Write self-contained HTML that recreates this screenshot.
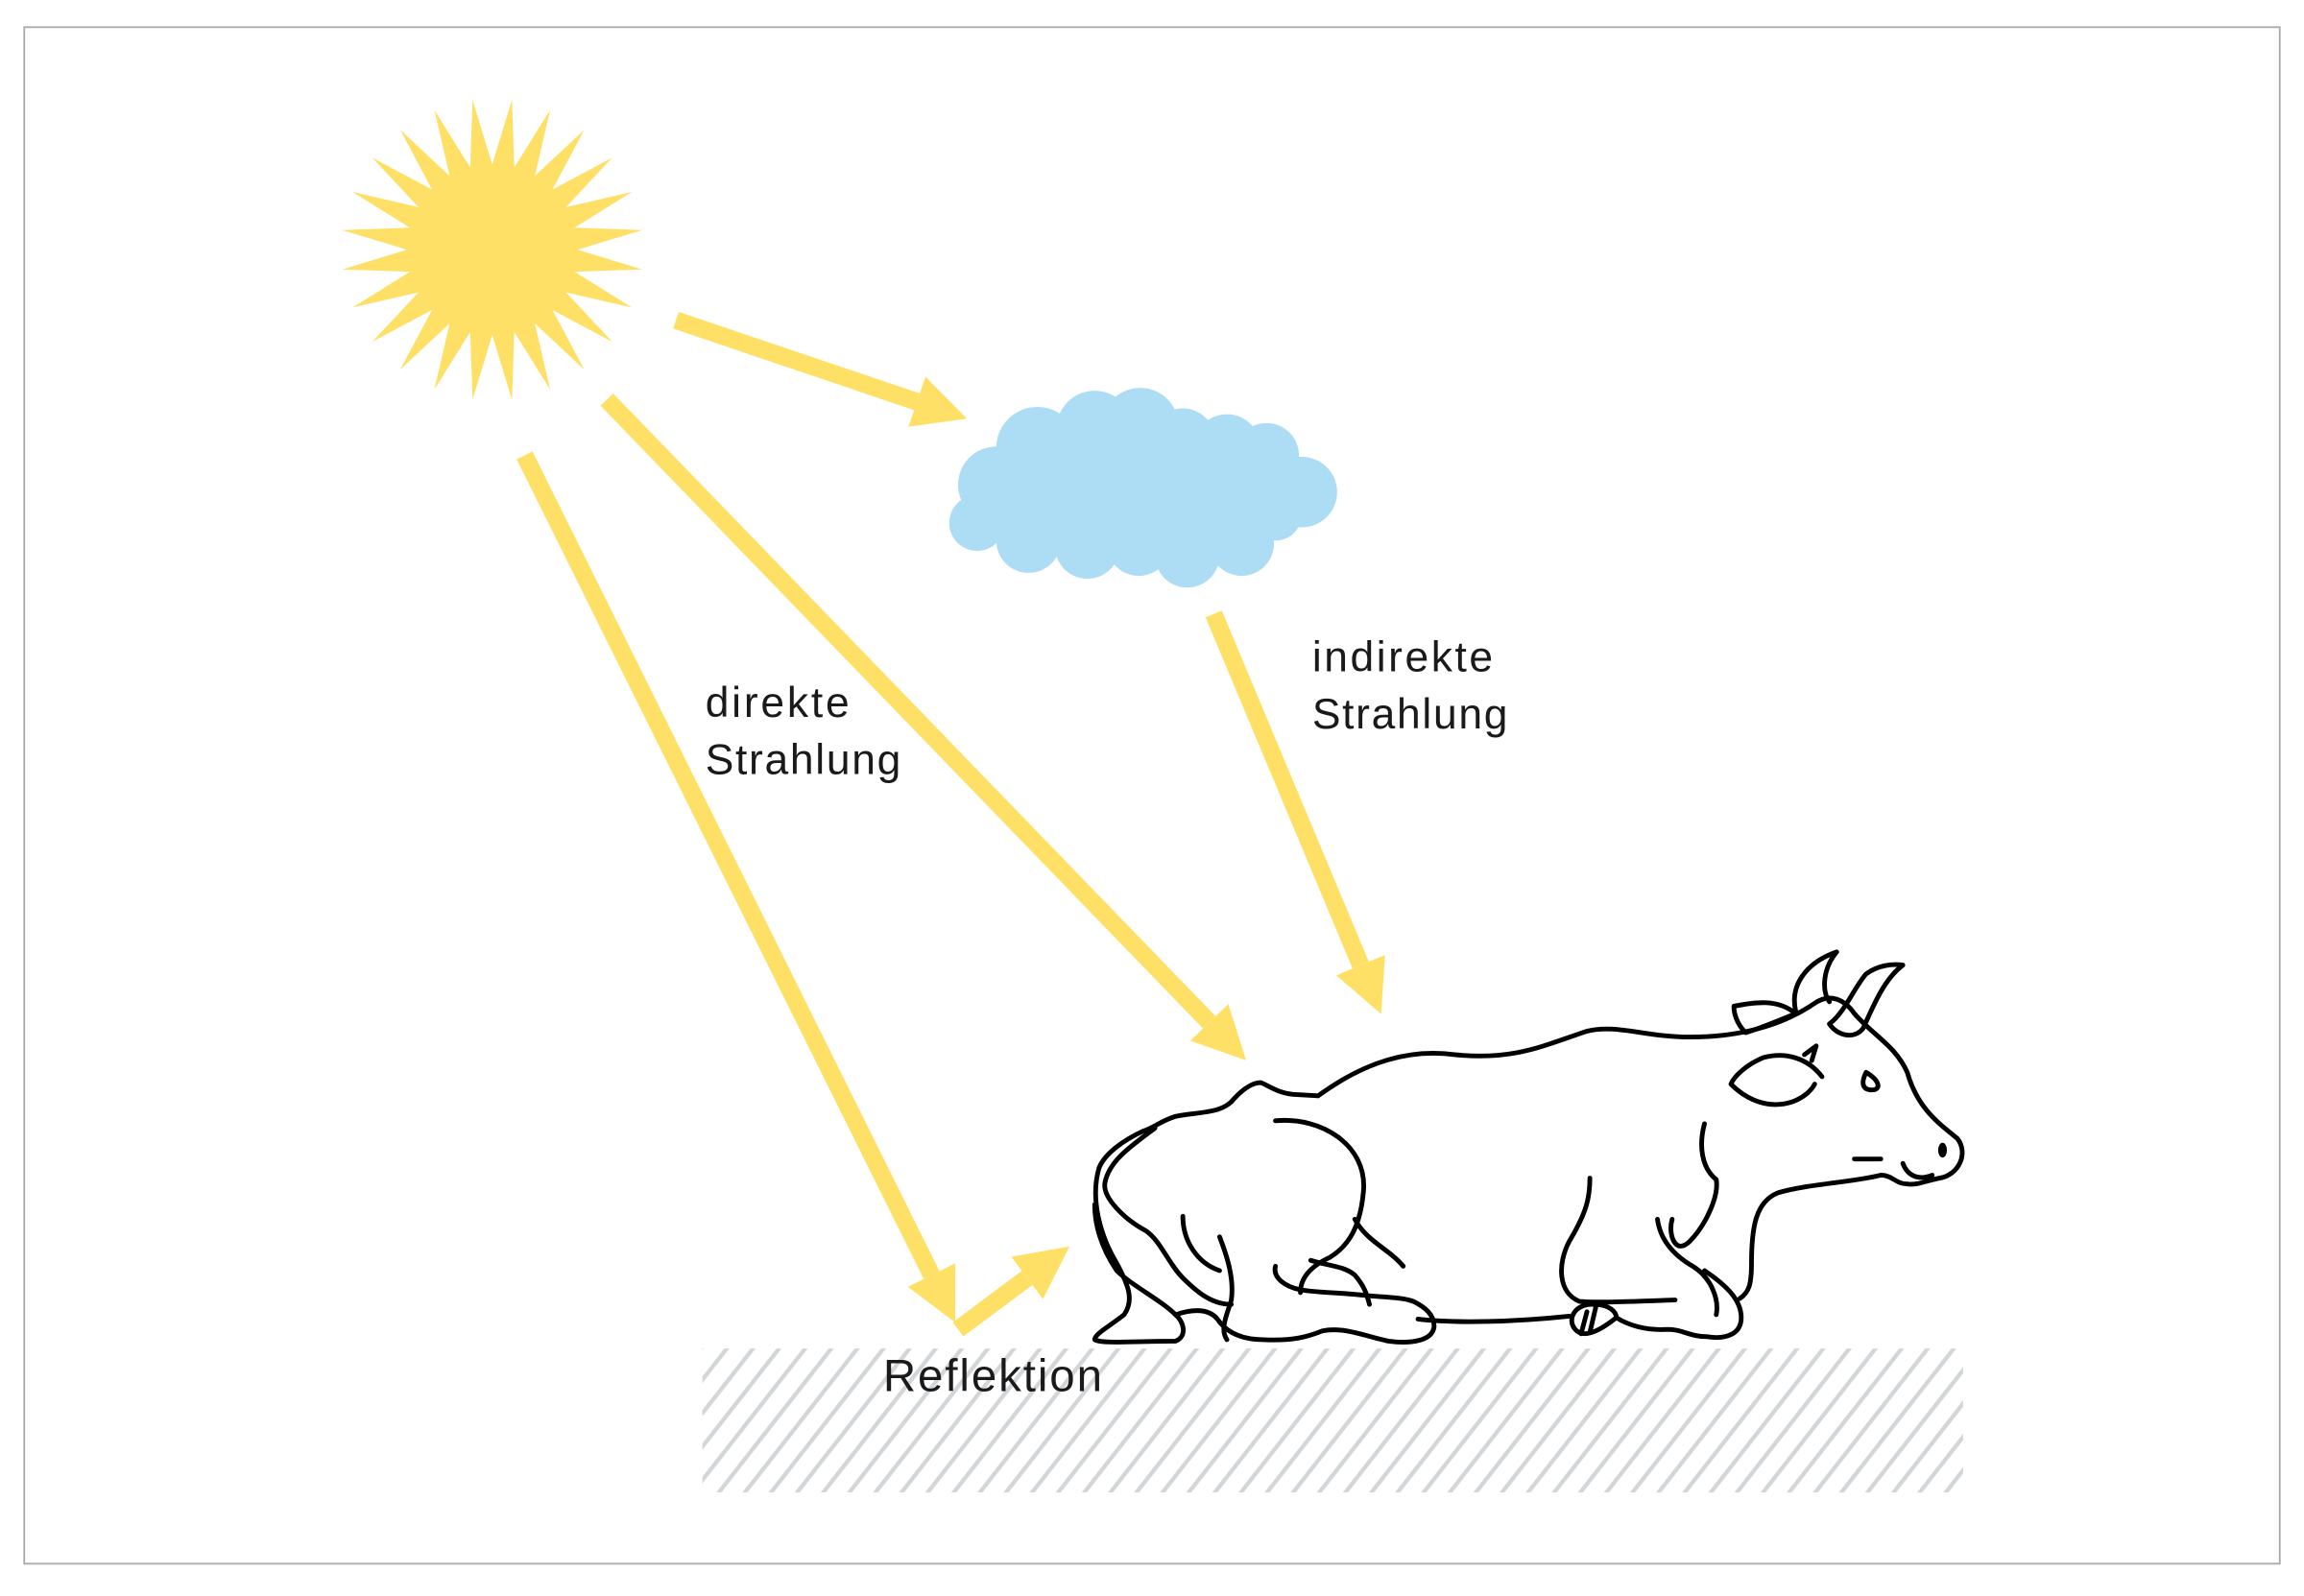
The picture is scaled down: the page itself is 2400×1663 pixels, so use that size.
<!DOCTYPE html>
<html><head><meta charset="utf-8"><style>
html,body{margin:0;padding:0;background:#fff}
svg{display:block}
text{font-family:"Liberation Sans",sans-serif;fill:#1a1a1a}
</style></head><body>
<svg width="2400" height="1663" viewBox="0 0 1568 1086.5" preserveAspectRatio="none" xmlns="http://www.w3.org/2000/svg">
<defs>
<pattern id="h" width="14" height="14" patternUnits="userSpaceOnUse" patternTransform="rotate(38)">
<line x1="3" y1="0" x2="3" y2="14" stroke="#d3d6d8" stroke-width="2.8"/>
</pattern>
<marker id="a" viewBox="0 0 3 3" refX="0" refY="1.5" markerWidth="3" markerHeight="3" orient="auto" markerUnits="strokeWidth">
<path d="M0,0 L3,1.5 L0,3 z" fill="#FFE066"/>
</marker>
</defs>
<rect x="16.5" y="18.5" width="1535" height="1046" fill="#fff" stroke="#aaa" stroke-width="1.2"/>
<rect x="478" y="918" width="858" height="98" fill="url(#h)"/>
<g transform="translate(335,170)" fill="#FFE066">
<polygon points="58,0 102.1,13.4 56,15 95.2,39.4 50.2,29 81.7,62.7 41,41 62.7,81.7 29,50.2 39.4,95.2 15,56 13.4,102.1 0,58 -13.4,102.1 -15,56 -39.4,95.2 -29,50.2 -62.7,81.7 -41,41 -81.7,62.7 -50.2,29 -95.2,39.4 -56,15 -102.1,13.4 -58,0 -102.1,-13.4 -56,-15 -95.2,-39.4 -50.2,-29 -81.7,-62.7 -41,-41 -62.7,-81.7 -29,-50.2 -39.4,-95.2 -15,-56 -13.4,-102.1 0,-58 13.4,-102.1 15,-56 39.4,-95.2 29,-50.2 62.7,-81.7 41,-41 81.7,-62.7 50.2,-29 95.2,-39.4 56,-15 102.1,-13.4"/>
</g>
<g stroke="#FFE066" stroke-width="12" marker-end="url(#a)" fill="none">
<line x1="460" y1="218" x2="624" y2="273.5"/>
<line x1="413" y1="272" x2="823" y2="696"/>
<line x1="357" y1="310" x2="634" y2="868"/>
<line x1="826" y1="418" x2="926" y2="657"/>
<line x1="652" y1="905" x2="699" y2="870"/>
</g>
<g fill="#ADDCF5">
<circle cx="665" cy="356" r="19"/>
<circle cx="678" cy="330" r="26"/>
<circle cx="706" cy="305" r="28"/>
<circle cx="745" cy="292" r="26"/>
<circle cx="776" cy="290" r="26"/>
<circle cx="805" cy="300" r="22"/>
<circle cx="835" cy="305" r="23"/>
<circle cx="862" cy="310" r="22"/>
<circle cx="886" cy="335" r="24"/>
<circle cx="868" cy="350" r="18"/>
<circle cx="700" cy="368" r="22"/>
<circle cx="740" cy="372" r="22"/>
<circle cx="775" cy="370" r="22"/>
<circle cx="808" cy="378" r="22"/>
<circle cx="845" cy="370" r="22"/>
<rect x="665" y="310" width="200" height="60"/>
</g>
<text x="480" y="488" font-size="29" textLength="98">direkte</text>
<text x="480" y="527" font-size="29" textLength="133">Strahlung</text>
<text x="893" y="457" font-size="29" textLength="123">indirekte</text>
<text x="893" y="496" font-size="29" textLength="133">Strahlung</text>
<text x="601" y="947" font-size="31" textLength="149">Reflektion</text>
<g fill="none" stroke="#000" stroke-width="3.2" stroke-linecap="round" stroke-linejoin="round">
<path d="M897,746 C930,722 960,714 990,718 C1030,722 1050,712 1080,702 C1100,697 1120,706 1150,706 C1180,706 1210,700 1235,683 C1245,676 1255,680 1262,690 C1275,705 1290,712 1298,730 C1305,755 1320,765 1332,775 C1340,785 1333,800 1320,802 C1310,804 1305,807 1298,806 C1290,806 1288,800 1280,800 C1260,805 1230,806 1210,812 C1195,818 1192,835 1192,860 C1192,875 1190,880 1184,884"/>
<path d="M1160,865 C1175,875 1185,885 1185,897 C1185,908 1175,912 1162,910 C1150,910 1145,905 1135,905 C1120,906 1108,902 1100,897 C1090,905 1078,912 1072,905 C1066,898 1072,887 1085,888 C1095,888 1100,893 1100,897"/>
<path d="M1068,896 C1030,900 990,901 965,898"/>
<path d="M1080,893 L1076,908 M1086,890 L1082,907"/>
<path d="M1140,885 C1110,886 1090,887 1075,886 C1060,880 1060,860 1068,845 C1080,825 1082,815 1082,802"/>
<path d="M1160,765 C1156,780 1158,795 1168,803 C1170,815 1160,835 1150,845 C1140,855 1135,840 1138,830"/>
<path d="M1128,830 C1130,845 1140,855 1152,862 C1165,870 1170,885 1168,895"/>
<path d="M838,750 C845,742 852,737 858,737 C865,740 870,744 880,745 L897,746"/>
<path d="M838,750 C830,758 815,757 800,760 C790,763 785,768 778,770 C765,776 752,785 748,795 C742,815 748,840 760,860 C768,875 772,885 765,895 C755,903 745,908 745,912 C750,915 770,913 800,913 C808,910 806,900 800,895 C790,885 770,875 760,865 C750,850 745,835 745,820"/>
<path d="M786,768 C770,780 755,790 752,805 C750,815 765,830 780,838 C790,845 795,860 805,870 C815,880 825,888 838,888"/>
<path d="M800,895 C815,890 825,892 830,900 C838,910 850,912 860,912 C880,913 890,910 900,906 C915,903 930,910 945,913 C960,915 975,913 976,903 C976,895 970,890 962,886 C955,883 940,883 930,882 C915,880 895,880 885,878 C875,876 866,870 868,862"/>
<path d="M868,763 C900,760 930,780 928,810 C926,835 918,848 905,856 C892,862 885,870 885,880"/>
<path d="M922,830 C930,845 945,850 955,862"/>
<path d="M892,858 C905,862 915,862 922,868 C928,875 930,880 932,888"/>
<path d="M830,842 C835,855 840,870 838,885 C835,895 830,905 835,912"/>
<path d="M805,828 C805,845 815,860 830,865"/>
<path d="M1180,685 C1195,682 1210,680 1222,690 C1210,695 1198,700 1188,703 C1182,697 1180,690 1180,685"/>
<path d="M1222,688 C1218,670 1230,655 1250,648 C1240,660 1240,675 1245,682"/>
<path d="M1245,697 C1255,690 1262,672 1270,663 C1278,657 1288,656 1295,657 C1283,666 1276,682 1268,700 C1262,708 1250,705 1245,697"/>
<path d="M1240,733 C1230,720 1215,716 1200,720 C1188,725 1180,733 1178,738 C1190,750 1205,755 1220,750 C1228,747 1233,742 1235,738"/>
<path d="M1228,718 L1236,712 M1233,722 L1236,712"/>
<path d="M1270,730 C1266,738 1268,742 1274,742 C1280,742 1280,736 1270,730"/>
<path d="M1262,789 L1280,789"/>
<path d="M1295,792 C1298,800 1305,804 1315,800"/>
</g>
<ellipse cx="1322" cy="783" rx="3" ry="5" fill="#000"/>
</svg>
</body></html>
